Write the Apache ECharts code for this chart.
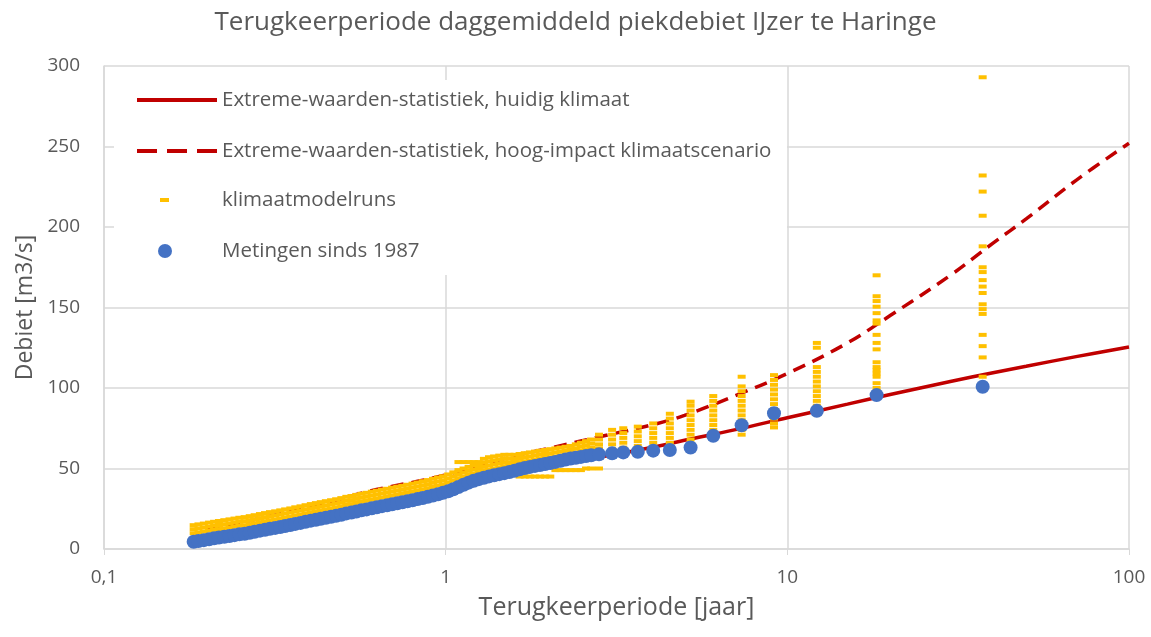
<!DOCTYPE html>
<html>
<head>
<meta charset="utf-8">
<script src="https://cdn.jsdelivr.net/npm/echarts@6.0.0/dist/echarts.min.js"></script>
<style>
  html, body { margin: 0; padding: 0; background: #fff; }
  #main { width: 1151px; height: 637px; }
</style>
</head>
<body>
<div id="main"></div>
<script>
// return periods (jaar) of the ranked peaks; measurements and model runs share them
var periods = [
  0.183, 0.189, 0.196, 0.203, 0.210, 0.217, 0.225, 0.233, 0.241, 0.249,
  0.258, 0.267, 0.276, 0.286, 0.296, 0.306, 0.317, 0.328, 0.339, 0.351,
  0.363, 0.376, 0.389, 0.403, 0.417, 0.431, 0.446, 0.462, 0.478, 0.495,
  0.512, 0.530, 0.548, 0.567, 0.587, 0.608, 0.629, 0.651, 0.674, 0.697,
  0.722, 0.747, 0.773, 0.800, 0.828, 0.857, 0.887, 0.918, 0.950, 0.983,
  1.017, 1.053, 1.090, 1.128, 1.167, 1.208, 1.250, 1.294, 1.339, 1.386,
  1.435, 1.485, 1.537, 1.591, 1.646, 1.704, 1.764, 1.825, 1.889, 1.955,
  2.024, 2.095, 2.168, 2.244, 2.322, 2.404, 2.488, 2.575, 2.665, 2.81,
  3.07, 3.31, 3.65, 4.05, 4.53, 5.21, 6.07, 7.35, 9.14, 12.2,
  18.25, 37.3
];

// Metingen sinds 1987 (m3/s)
var measured = [
  4.5, 5.0, 5.5, 6.1, 6.6, 7.1, 7.6, 8.1, 8.6, 9.1,
  9.5, 10.1, 10.7, 11.4, 12.0, 12.6, 13.1, 13.7, 14.3, 14.9,
  15.6, 16.2, 16.9, 17.6, 18.2, 18.8, 19.4, 20.0, 20.6, 21.3,
  22.1, 22.6, 23.3, 24.0, 24.6, 25.3, 25.9, 26.6, 27.1, 27.8,
  28.4, 29.0, 29.6, 30.3, 31.0, 31.7, 32.4, 33.2, 34.0, 34.9,
  35.9, 37.1, 38.5, 39.9, 41.2, 42.4, 43.4, 44.3, 45.1, 45.8,
  46.5, 47.1, 47.8, 48.6, 49.5, 50.3, 51.0, 51.6, 52.2, 52.8,
  53.4, 54.1, 54.8, 55.6, 56.2, 56.7, 57.2, 57.7, 58.2, 58.8,
  59.4, 60, 60.4, 61.1, 61.5, 63, 70.3, 76.9, 84.3, 85.8,
  95.6, 100.8
];

// klimaatmodelruns: the values plotted at each return period
var modelRuns = [
  [14.8, 12.3, 9.8], [15.3, 12.8, 10.3], [15.8, 13.3, 10.8], [16.4, 13.9, 11.4], [16.9, 14.4, 11.9],
  [17.4, 14.9, 12.4], [17.9, 15.4, 12.9], [18.4, 15.9, 13.4], [18.9, 16.4, 13.9], [19.4, 16.9, 14.4],
  [19.8, 17.3, 14.8], [20.4, 17.9, 15.4], [21, 18.5, 16], [21.7, 19.2, 16.7], [22.3, 19.8, 17.3],
  [22.9, 20.4, 17.9], [23.4, 20.9, 18.4], [24, 21.5, 19], [24.6, 22.1, 19.6], [25.2, 22.7, 20.2],
  [25.9, 23.4, 20.9], [26.5, 24, 21.5], [27.2, 24.7, 22.2], [27.9, 25.4, 22.9], [28.5, 26, 23.5],
  [29.1, 26.6, 24.1], [29.7, 27.2, 24.7], [30.3, 27.8, 25.3], [30.9, 28.4, 25.9], [31.6, 29.1, 26.6],
  [32.4, 29.9, 27.4], [32.9, 30.4, 27.9], [33.6, 31.1, 28.6], [34.3, 31.8, 29.3], [34.9, 32.4, 29.9],
  [35.6, 33.1, 30.6], [36.2, 33.7, 31.2], [36.9, 34.4, 31.9], [37.4, 34.9, 32.4], [38.1, 35.6, 33.1],
  [38.7, 36.2, 33.7], [39.3, 36.8, 34.3], [39.9, 37.4, 34.9], [40.6, 38.1, 35.6], [41.3, 38.8, 36.3],
  [42.1, 39.6, 37.1], [42.8, 40.3, 37.8], [43.6, 41.1, 38.6], [44.4, 41.9, 39.4], [45.2, 42.7, 40.2],
  [46.3, 43.8, 41.3], [47.6, 45.1, 42.6], [54, 49, 46.5, 44], [54, 50, 47.5, 45], [54, 51, 48.5, 46],
  [54, 52, 49.5, 47], [54, 52.8, 50.3, 47.8], [56, 53.5, 51, 48.5], [57, 54.5, 52, 49.5], [57.5, 55, 52.5, 50],
  [58, 55.5, 53, 50.5], [58.5, 56, 53.5, 51], [58.5, 56, 53.5, 51.5], [58.5, 56, 54, 52],
  [59, 56.5, 54, 51.5, 45], [59.5, 57, 54.5, 52, 45], [60, 57.5, 55, 52.5, 45], [60.5, 58, 55.5, 53, 45],
  [61, 58.5, 56, 53.5, 45], [61.5, 59, 56.5, 54, 45], [62, 59.5, 57, 54.5, 45],
  [62.5, 60, 57.5, 55, 49], [63, 60.5, 58, 55.5, 49], [63.5, 61, 58.5, 56, 49], [64, 61.5, 59, 56.5, 49],
  [65, 62.5, 60, 57.5, 49], [66, 63.5, 61, 58.5, 49], [67, 64.5, 62, 59.5, 50], [68, 65.5, 63, 60.5, 50],
  [71, 68, 65, 62.5, 50],
  [74, 71, 68, 65, 62], [75, 72, 69, 66, 63], [76, 73, 70, 67, 64], [78, 75, 72, 69, 66, 63],
  [84, 81, 78, 75, 72, 69, 66, 63.5],
  [91.5, 89, 86, 83, 80, 77, 74, 71, 68],
  [95, 92, 89, 86, 83, 80, 77, 74, 72],
  [107, 101, 98, 95, 92, 89, 86, 83, 80, 77, 74, 71],
  [108, 105, 102, 99, 96, 93, 90, 87, 81, 78, 75.5],
  [128, 125, 113, 110, 107, 104, 101, 98, 95, 92, 89],
  [170, 157, 154, 150.5, 146.5, 142, 140, 133, 128, 124, 116, 113, 111, 109, 107, 103, 100],
  [293, 232, 222, 207, 188, 175, 172, 167, 163, 159, 152, 149, 146, 133, 126, 119, 107]
];

// extreme-value fits
var curvePeriods = [0.2, 0.3, 0.4, 0.5, 0.6, 0.7, 0.85, 1, 1.5, 2, 3, 4, 5, 7, 10, 15, 20, 30, 40, 50, 70, 100];
var currentClimate = [6, 12.5, 17.5, 21.5, 25, 28, 31.5, 35, 45.5, 51.5, 58, 63, 67.5, 74, 81.5, 90, 96, 104, 109.5, 113.5, 119.5, 125.5];
var highImpact = [12, 20, 26, 31.5, 36, 39, 42.5, 46, 56.5, 62.5, 71, 77, 83, 95, 109, 128, 145, 170, 190, 205, 229, 252];

var xTicks = { 0.1: '0,1', 1: '1', 10: '10', 100: '100' };

var names = [
  'Extreme-waarden-statistiek, huidig klimaat',
  'Extreme-waarden-statistiek, hoog-impact klimaatscenario',
  'klimaatmodelruns',
  'Metingen sinds 1987'
];

var FONT = 'Open Sans';
var GREY = '#595959';
var GRID = '#d9d9d9';
var RED = '#C00000';

function pairs(xs, ys) {
  return xs.map(function (x, i) { return [x, ys[i]]; });
}

var runPoints = [];
periods.forEach(function (t, i) {
  modelRuns[i].forEach(function (v) { runPoints.push([t, v]); });
});

var legendText = { fontFamily: FONT, fontSize: 20.5, color: GREY, lineHeight: 24 };

var chart = echarts.init(document.getElementById('main'));

chart.setOption({
  animation: false,
  backgroundColor: '#fff',
  textStyle: { fontFamily: FONT },
  title: {
    text: 'Terugkeerperiode daggemiddeld piekdebiet IJzer te Haringe',
    left: 'center',
    top: 5,
    textStyle: { fontFamily: FONT, fontSize: 26, fontWeight: 'normal', color: GREY }
  },
  // white box behind the legend, hides the grid lines there
  graphic: {
    elements: [{
      type: 'rect',
      z: 1,
      shape: { x: 114, y: 80, width: 673, height: 195 },
      style: { fill: '#fff' }
    }]
  },
  legend: [{
    data: [
      { name: names[0], lineStyle: { width: 4, color: RED } },
      { name: names[1], lineStyle: { width: 4, color: RED, type: [20, 10] } }
    ],
    orient: 'vertical',
    left: 130,
    top: 83,
    itemWidth: 80,
    itemHeight: 1,
    itemGap: 27,
    selectedMode: false,
    textStyle: legendText
  }, {
    data: [{ name: names[2], icon: 'rect' }],
    left: 155,
    top: 183,
    itemWidth: 9,
    itemHeight: 4,
    selectedMode: false,
    textStyle: Object.assign({ padding: [0, 0, 0, 48] }, legendText)
  }, {
    data: [{ name: names[3], icon: 'circle' }],
    left: 153,
    top: 234,
    itemWidth: 14,
    itemHeight: 14,
    selectedMode: false,
    textStyle: Object.assign({ padding: [0, 0, 0, 45] }, legendText)
  }],
  grid: { left: 104, right: 22, top: 66, bottom: 88 },
  xAxis: {
    type: 'log',
    logBase: 10,
    min: 0.1,
    max: 100,
    name: 'Terugkeerperiode [jaar]',
    nameLocation: 'middle',
    nameGap: 46,
    nameTextStyle: { fontFamily: FONT, fontSize: 25, color: GREY },
    axisLine: { lineStyle: { color: GRID, width: 1.5 } },
    axisTick: { show: true, length: 6, lineStyle: { color: GRID } },
    axisLabel: {
      color: GREY,
      fontSize: 19,
      margin: 19,
      formatter: function (v) {
        var k = Math.round(Math.log10(v));
        return xTicks[Math.pow(10, k)] || '';
      }
    },
    splitLine: { show: true, lineStyle: { color: GRID, width: 1.5 } },
    minorTick: { show: false },
    minorSplitLine: { show: false }
  },
  yAxis: {
    type: 'value',
    min: 0,
    max: 300,
    interval: 50,
    name: 'Debiet [m3/s]',
    nameLocation: 'middle',
    nameGap: 60,
    nameTextStyle: { fontFamily: FONT, fontSize: 23, color: GREY },
    axisLine: { show: true, lineStyle: { color: GRID, width: 1.5 } },
    axisTick: { show: false },
    axisLabel: { color: GREY, fontSize: 19, margin: 24 },
    splitLine: { show: true, lineStyle: { color: GRID, width: 1.5 } }
  },
  series: [{
    name: names[0],
    type: 'line',
    z: 1,
    smooth: 0.4,
    symbol: 'none',
    data: pairs(curvePeriods, currentClimate),
    itemStyle: { color: RED },
    lineStyle: { color: RED, width: 3.5 }
  }, {
    name: names[1],
    type: 'line',
    z: 1,
    smooth: 0.4,
    symbol: 'none',
    data: pairs(curvePeriods, highImpact),
    itemStyle: { color: RED },
    lineStyle: { color: RED, width: 3.5, type: [13, 8] }
  }, {
    name: names[2],
    type: 'scatter',
    z: 2,
    symbol: 'rect',
    symbolSize: [8, 4],
    data: runPoints,
    itemStyle: { color: '#FFC000', opacity: 1 }
  }, {
    name: names[3],
    type: 'scatter',
    z: 3,
    symbol: 'circle',
    symbolSize: 14,
    data: pairs(periods, measured),
    itemStyle: { color: '#4472C4', opacity: 1 }
  }]
});
</script>
</body>
</html>
